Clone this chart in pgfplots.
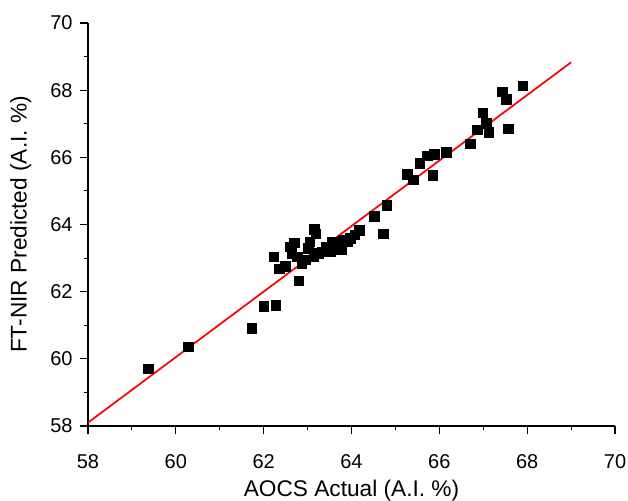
\documentclass[border=0pt]{standalone}
\usepackage{fontspec}
\setmainfont{Liberation Sans}
\usepackage{pgfplots}
\pgfplotsset{compat=1.18}
\begin{document}
\begin{tikzpicture}
\begin{axis}[
  at={(0,0)}, anchor=south west,
  scale only axis,
  width=395.25pt, height=302.25pt,
  xmin=58, xmax=70, ymin=58, ymax=70,
  xtick={58,60,...,70}, ytick={58,60,...,70},
  minor tick num=1,
  axis x line=bottom, axis y line=left,
  axis line style={-, line width=0.8pt, black},
  tick align=outside,
  major tick length=6pt, minor tick length=3pt,
  tick style={line width=0.8pt, black},
  /pgf/number format/assume math mode=true,
  ticklabel style={font=\fontsize{15}{18}\selectfont},
  xticklabel style={yshift=-11.5pt},
  yticklabel style={xshift=-2pt},
  label style={font=\fontsize{17}{20}\selectfont},
  xlabel={AOCS Actual (A.I. \%)},
  ylabel={FT-NIR Predicted (A.I. \%)},
  xlabel style={yshift=-2pt},
  ylabel style={yshift=7.5pt},
  clip=false,
]
\addplot[only marks, mark=square*, mark size=3.6pt, black] coordinates {
(59.37,59.70) (60.28,60.36) (61.73,60.91) (62.00,61.56) (62.28,61.60)
(62.23,63.04) (62.36,62.68) (62.49,62.75) (62.61,63.34) (62.70,63.46)
(62.64,63.15) (62.76,63.04) (62.87,62.85) (62.95,62.95) (63.02,63.29)
(63.05,63.49) (63.15,63.86) (63.19,63.72) (63.14,63.04) (63.25,63.15)
(63.33,63.19) (63.43,63.34) (63.52,63.19) (63.56,63.49) (63.67,63.44)
(63.77,63.26) (63.80,63.54) (63.90,63.49) (63.97,63.59) (64.07,63.69)
(64.18,63.82) (62.80,62.33) (64.52,64.25) (64.80,64.57) (64.73,63.72)
(65.27,65.50) (65.40,65.33) (65.55,65.82) (65.72,66.05) (65.89,66.10)
(65.85,65.47) (66.16,66.15) (66.71,66.40) (66.86,66.82) (66.99,67.33)
(67.07,67.01) (67.13,66.74) (67.57,66.85) (67.43,67.95) (67.53,67.73)
(67.90,68.13)
};
\addplot[red, line width=1.3pt] coordinates {(58,58.1) (69,68.83)};
\end{axis}
\pgfresetboundingbox
\path (-66pt,-55.5pt) rectangle (405pt,319.5pt);
\end{tikzpicture}
\end{document}
